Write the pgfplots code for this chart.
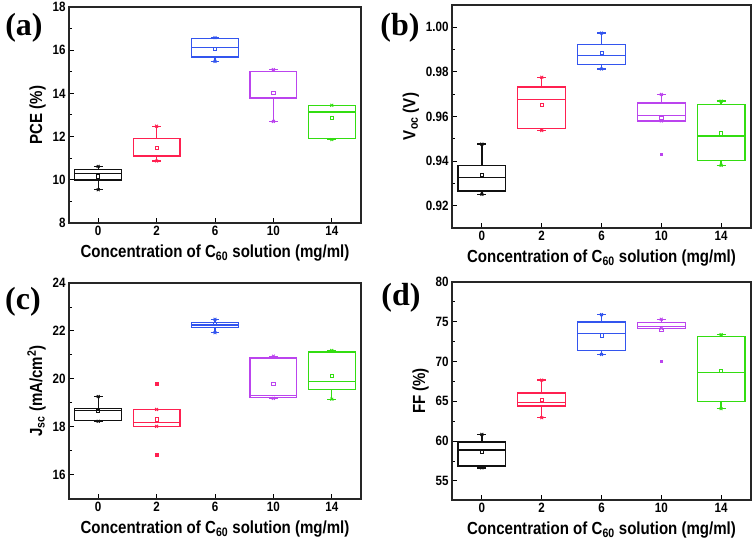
\documentclass[border=0pt]{standalone}
\usepackage{fontspec}
\setmainfont{Liberation Sans}
\newfontfamily\lab[FakeStretch=0.86]{Liberation Sans}
\newfontfamily\serifpanel{Liberation Serif}
\usepackage{pgfplots}
\pgfplotsset{compat=1.18}
\usepgfplotslibrary{statistics}
\definecolor{cK}{HTML}{111111}
\definecolor{cR}{HTML}{FF2050}
\definecolor{cB}{HTML}{3355EE}
\definecolor{cV}{HTML}{BB44EE}
\definecolor{cG}{HTML}{33DD11}
\newcommand{\bp}[8]{%
 \addplot[#2, line width=1.3pt, boxplot/draw direction=y, boxplot prepared={draw position=#1, box extend=0.8, whisker extend=0.15, lower whisker=#3, lower quartile=#4, median=#5, upper quartile=#6, upper whisker=#7}] coordinates {};
 \addplot[#2, only marks, mark=square, mark size=1.6pt, line width=0.8pt] coordinates {(#1,#8)};
 \addplot[#2, only marks, mark=x, mark size=2pt, line width=0.9pt] coordinates {(#1,#3) (#1,#7)};
}
\pgfplotsset{panel/.style={
  scale only axis,
  xmin=-0.5, xmax=4.5,
  xtick={0,1,2,3,4}, xticklabels={0,2,6,10,14},
  xtick pos=left, ytick pos=left,
  minor y tick num=1,
  tick align=inside,
  major tick length=5pt, minor tick length=3pt,
  tick style={black, line width=1pt},
  axis line style={line width=1.5pt, black!85},
  /pgf/number format/assume math mode=true,
  ticklabel style={font=\lab\bfseries\fontsize{13.5}{15}\selectfont},
  xlabel style={font=\lab\bfseries\fontsize{17.5}{20}\selectfont, yshift=-2pt},
  ylabel style={font=\lab\bfseries\fontsize{17.5}{20}\selectfont},
  xlabel={Concentration of C\textsubscript{60} solution (mg/ml)},
}}
\begin{document}
\begin{tikzpicture}
\path[use as bounding box] (0pt,0pt) rectangle (756pt,540pt);
% (a)
\begin{axis}[panel, at={(69pt,317pt)}, anchor=south west, width=292pt, height=216pt,
  ymin=8, ymax=18, ytick={8,10,12,14,16,18}, ylabel={PCE (\%)}]
\bp{0}{cK}{9.54}{9.99}{10.28}{10.47}{10.62}{10.16}
\bp{1}{cR}{10.87}{11.07}{11.10}{11.92}{12.48}{11.47}
\bp{2}{cB}{15.48}{15.69}{16.13}{16.53}{16.58}{16.06}
\bp{3}{cV}{12.70}{13.76}{13.80}{15.00}{15.10}{14.02}
\bp{4}{cG}{11.86}{11.92}{13.14}{13.45}{13.45}{12.85}
\end{axis}
% (b)
\begin{axis}[panel, at={(452pt,312pt)}, anchor=south west, width=299pt, height=223pt,
  ymin=0.91, ymax=1.01, ytick={0.92,0.94,0.96,0.98,1.00},
  yticklabel style={/pgf/number format/.cd, fixed, fixed zerofill, precision=2},
  ylabel={V\textsubscript{oc} (V)}]
\bp{0}{cK}{0.9251}{0.9266}{0.9327}{0.9381}{0.9476}{0.9337}
\bp{1}{cR}{0.9537}{0.9547}{0.9675}{0.9732}{0.9776}{0.9653}
\bp{2}{cB}{0.9813}{0.9834}{0.9872}{0.9923}{0.9974}{0.9884}
\bp{3}{cV}{0.9580}{0.9580}{0.9604}{0.9660}{0.9699}{0.9595}
\bp{4}{cG}{0.9381}{0.9402}{0.9513}{0.9653}{0.9669}{0.9524}
\addplot[cV, only marks, mark=square*, mark size=1.2pt] coordinates {(3,0.9431)};
\end{axis}
% (c)
\begin{axis}[panel, at={(69pt,41pt)}, anchor=south west, width=292pt, height=216pt,
  ymin=15, ymax=24, ytick={16,18,20,22,24},
  ylabel={J\textsubscript{sc} (mA/cm\textsuperscript{2})}]
\bp{0}{cK}{18.24}{18.28}{18.69}{18.78}{19.27}{18.66}
\bp{1}{cR}{18.03}{18.03}{18.18}{18.73}{18.73}{18.32}
\bp{2}{cB}{21.93}{22.15}{22.25}{22.36}{22.49}{22.29}
\bp{3}{cV}{19.19}{19.22}{19.30}{20.88}{20.95}{19.80}
\bp{4}{cG}{19.16}{19.55}{19.90}{21.13}{21.19}{20.14}
\addplot[cR, only marks, mark=square*, mark size=1.2pt] coordinates {(1,19.80) (1,16.84)};
\end{axis}
% (d)
\begin{axis}[panel, at={(452pt,40pt)}, anchor=south west, width=299pt, height=218pt,
  ymin=52.6, ymax=80, ytick={55,60,65,70,75,80},
  ylabel={FF (\%)}]
\bp{0}{cK}{56.63}{56.88}{58.89}{59.89}{60.85}{58.60}
\bp{1}{cR}{62.94}{64.41}{64.82}{66.04}{67.67}{65.20}
\bp{2}{cB}{70.89}{71.39}{73.52}{74.98}{75.90}{73.30}
\bp{3}{cV}{74.19}{74.19}{74.44}{74.90}{75.32}{73.98}
\bp{4}{cG}{64.07}{64.95}{68.63}{73.14}{73.39}{68.80}
\addplot[cV, only marks, mark=square*, mark size=1.2pt] coordinates {(3,70.05)};
\end{axis}
\node[font=\serifpanel\bfseries\fontsize{32}{36}\selectfont] at (24pt,512pt) {(a)};
\node[font=\serifpanel\bfseries\fontsize{32}{36}\selectfont] at (400pt,512pt) {(b)};
\node[font=\serifpanel\bfseries\fontsize{32}{36}\selectfont] at (23pt,238pt) {(c)};
\node[font=\serifpanel\bfseries\fontsize{32}{36}\selectfont] at (401pt,242pt) {(d)};
\end{tikzpicture}
\end{document}
